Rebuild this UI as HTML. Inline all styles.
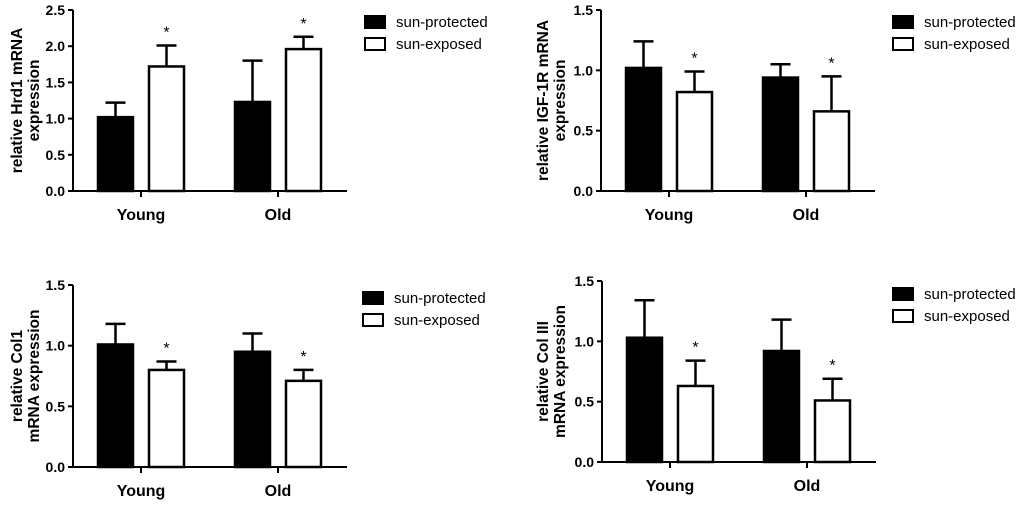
<!DOCTYPE html>
<html><head><meta charset="utf-8"><style>
body{margin:0;background:#fff;}
svg text{font-family:"Liberation Sans",Arial,sans-serif;}
</style></head><body>
<svg id="c" width="1020" height="503" xmlns="http://www.w3.org/2000/svg"></svg>
<script>
const categories = ["Young","Old"];
const seriesNames = ["sun-protected","sun-exposed"];
const hrd1Means = [[1.02,1.23],[1.72,1.96]];
const hrd1Err = [[0.20,0.57],[0.29,0.17]];
const igfMeans = [[1.02,0.94],[0.82,0.66]];
const igfErr = [[0.22,0.11],[0.17,0.29]];
const col1Means = [[1.01,0.95],[0.80,0.71]];
const col1Err = [[0.17,0.15],[0.07,0.09]];
const col3Means = [[1.03,0.92],[0.63,0.51]];
const col3Err = [[0.31,0.26],[0.21,0.18]];
const ticksA = ["0.0","0.5","1.0","1.5","2.0","2.5"];
const ticksB = ["0.0","0.5","1.0","1.5"];
const stars = [[false,false],[true,true]];

const svg=document.getElementById('c');
const NS="http://www.w3.org/2000/svg";
function mk(tag,attrs,parent){const e=document.createElementNS(NS,tag);for(const k in attrs)e.setAttribute(k,attrs[k]);parent.appendChild(e);return e;}

function panel(cfg){
  const g=mk('g',{},svg);
  
  
  const ticks=cfg.ticks, ymax=parseFloat(ticks[ticks.length-1]);
  const y=v=>cfg.y0-(v/ymax)*(cfg.y0-cfg.yTop);
  const ax=cfg.ax;
  const ya=mk('line',{x1:ax,y1:cfg.yTop,x2:ax,y2:cfg.y0,stroke:'#000','stroke-width':2},g);
  
  ticks.forEach(t=>{const v=parseFloat(t);
    mk('line',{x1:ax-5,y1:y(v),x2:ax,y2:y(v),stroke:'#000','stroke-width':2},g);
    const tx=mk('text',{x:ax-8,y:y(v)+5,'text-anchor':'end','font-size':14,'font-weight':'bold'},g);
    tx.textContent=t;
    
  });
  const xa=mk('line',{x1:ax,y1:cfg.y0,x2:ax+274,y2:cfg.y0,stroke:'#000','stroke-width':2},g);
  
  const groupX=[ax+68,ax+205];
  categories.forEach((c,i)=>{
    mk('line',{x1:groupX[i],y1:cfg.y0,x2:groupX[i],y2:cfg.y0+6,stroke:'#000','stroke-width':2},g);
    const t=mk('text',{x:groupX[i],y:cfg.y0+29,'text-anchor':'middle','font-size':16,'font-weight':'bold'},g);
    t.textContent=c;
    
    [0,1].forEach(s=>{
      const bx=groupX[i]+(s===0?-43:8), bw=35;
      const m=cfg.means[s][i], e=cfg.err[s][i];
      const cx=bx+bw/2;
      mk('line',{x1:cx,y1:y(m),x2:cx,y2:y(m+e),stroke:'#000','stroke-width':2.5},g);
      mk('line',{x1:cx-10,y1:y(m+e),x2:cx+10,y2:y(m+e),stroke:'#000','stroke-width':2.5},g);
      const r=mk('rect',{x:bx,y:y(m),width:bw,height:cfg.y0-y(m),fill:s===0?'#000':'#fff',stroke:'#000','stroke-width':2.5},g);
      
      
      if(stars[s][i]){const st=mk('text',{x:cx,y:y(m+e)-8,'text-anchor':'middle','font-size':16},g);st.textContent='*';
        }
    });
  });
  const yt=mk('text',{transform:`translate(${cfg.tx},${(cfg.yTop+cfg.y0)/2}) rotate(-90)`,'text-anchor':'middle','font-size':15.5,'font-weight':'bold'},g);
  
  mk('tspan',{x:0,dy:0},yt).textContent=cfg.title[0];
  mk('tspan',{x:0,dy:17},yt).textContent=cfg.title[1];
  seriesNames.forEach((n,s)=>{
    const ly=cfg.ly+s*22;
    const b=mk('rect',{x:cfg.lx,y:ly-6,width:20,height:12,fill:s===0?'#000':'#fff',stroke:'#000','stroke-width':2},g);
    
    const t=mk('text',{x:cfg.lx+31,y:ly+5,'font-size':15},g);t.textContent=n;
    
  });
}
panel({name:'hrd1-chart',ax:73,yTop:10,y0:191,ticks:ticksA,means:hrd1Means,err:hrd1Err,title:['relative Hrd1 mRNA','expression'],tx:22,lx:365,ly:22});
panel({name:'igf1r-chart',ax:601,yTop:10,y0:191,ticks:ticksB,means:igfMeans,err:igfErr,title:['relative IGF-1R mRNA','expression'],tx:548,lx:893,ly:22});
panel({name:'col1-chart',ax:73,yTop:285,y0:467,ticks:ticksB,means:col1Means,err:col1Err,title:['relative Col1','mRNA expression'],tx:22,lx:363,ly:298});
panel({name:'col3-chart',ax:602,yTop:281,y0:462,ticks:ticksB,means:col3Means,err:col3Err,title:['relative Col III','mRNA expression'],tx:548,lx:893,ly:294});
</script>
</body></html>
